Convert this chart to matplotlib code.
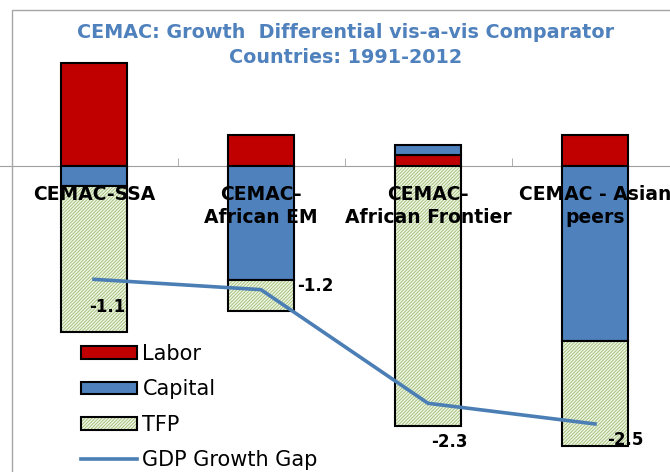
import numpy as np
import matplotlib.pyplot as plt
from matplotlib.patches import Patch, Rectangle
from matplotlib.lines import Line2D
from matplotlib.legend_handler import HandlerTuple

plt.rcParams['font.family'] = ['DejaVu Sans']
plt.rcParams['hatch.linewidth'] = 0.6

# data
categories = ['CEMAC-SSA', 'CEMAC-\nAfrican EM', 'CEMAC-\nAfrican Frontier', 'CEMAC - Asian\npeers']
labor = [0.99, 0.30, 0.10, 0.30]
capital = [-0.20, -1.11, 0.10, -1.70]
tfp = [-1.41, -0.30, -2.52, -1.01]
gdp_gap = [-1.1, -1.2, -2.3, -2.5]
gap_labels = ['-1.1', '-1.2', '-2.3', '-2.5']

red = '#c00000'
blue = '#4f81bd'
line_blue = '#4a7eb4'
tfp_face = '#eef4e3'
tfp_hatch = '#9fbd72'

fig = plt.figure(figsize=(6.7, 4.72), dpi=100)
ax = fig.add_axes([0, 0, 1, 1])
ax.patch.set_alpha(0)
ax.set_axisbelow(False)

x = np.arange(len(categories))
w = 0.395

# stack positives and negatives separately, like Excel does
pos = np.zeros(len(x))
neg = np.zeros(len(x))

def stack(vals):
    vals = np.array(vals)
    bottom = np.where(vals >= 0, pos, neg)
    pos[:] = pos + np.clip(vals, 0, None)
    neg[:] = neg + np.clip(vals, None, 0)
    return vals, bottom

v, b = stack(labor)
ax.bar(x, v, w, bottom=b, color=red, edgecolor='black', linewidth=1.5, zorder=2)
v, b = stack(capital)
ax.bar(x, v, w, bottom=b, color=blue, edgecolor='black', linewidth=1.5, zorder=2)
v, b = stack(tfp)
ax.bar(x, v, w, bottom=b, color=tfp_face, edgecolor=tfp_hatch, hatch='//////////', linewidth=0, zorder=2)
ax.bar(x, v, w, bottom=b, fill=False, edgecolor='black', linewidth=1.5, zorder=2)

ax.plot(x, gdp_gap, color=line_blue, linewidth=2.6, zorder=3)

offsets = [(13, -28), (54, 4), (21, -39), (30, -16)]
for xi, yi, lab, off in zip(x, gdp_gap, gap_labels, offsets):
    ax.annotate(lab, (xi, yi), xytext=off, textcoords='offset pixels',
                ha='center', va='center', fontsize=12, fontweight='bold', zorder=4)

# pixel mapping: category spacing 167 px starting at 10.5 px; zero at 165.7 px, 103.3 px per unit
ax.set_xlim((0 - 10.5) / 167 - 0.5, (670 - 10.5) / 167 - 0.5)
ax.set_ylim((165.7 - 472) / 103.3, 165.7 / 103.3)

for s in ['top', 'right', 'left']:
    ax.spines[s].set_visible(False)
ax.spines['bottom'].set_position(('data', 0))
ax.spines['bottom'].set_color('#a0a0a0')
ax.spines['bottom'].set_zorder(1)
ax.set_yticks([])
ax.set_xticks(x)
ax.set_xticklabels(categories, fontsize=13.5, fontweight='bold', linespacing=1.28)
ax.set_xticks(x[:-1] + 0.5, minor=True)
ax.tick_params(axis='x', which='major', length=0, pad=14)
ax.tick_params(axis='x', which='minor', direction='in', length=6, color='#a0a0a0')

ax.text(346 / 670, 1 - 45 / 472, 'CEMAC: Growth  Differential vis-a-vis Comparator\nCountries: 1991-2012',
        transform=fig.transFigure, ha='center', va='center', fontsize=13.8, fontweight='bold',
        color='#4f81bd', linespacing=1.4)

# chart border (cropped at right and bottom)
fig.patches.append(Rectangle((12 / 670, -0.1), 1.2, 1.1 - 10 / 472, transform=fig.transFigure,
                             fill=False, edgecolor='#a6a6a6', linewidth=1))

h_labor = Patch(facecolor=red, edgecolor='black', linewidth=1.5)
h_cap = Patch(facecolor=blue, edgecolor='black', linewidth=1.5)
h_tfp = (Patch(facecolor=tfp_face, edgecolor=tfp_hatch, hatch='//////////', linewidth=0),
         Patch(fill=False, edgecolor='black', linewidth=1.5))
h_gap = Line2D([], [], color=line_blue, linewidth=2.6)
ax.legend([h_labor, h_cap, h_tfp, h_gap], ['Labor', 'Capital', 'TFP', 'GDP Growth Gap'],
          handler_map={tuple: HandlerTuple(ndivide=1, pad=0)},
          loc='upper left', bbox_to_anchor=(81 / 670, 1 - 344 / 472), bbox_transform=fig.transFigure,
          frameon=False, fontsize=15, handlelength=2.7, handleheight=0.53, handletextpad=0.25,
          labelspacing=0.74, borderpad=0, borderaxespad=0)

fig.savefig('out.png', dpi=100)
